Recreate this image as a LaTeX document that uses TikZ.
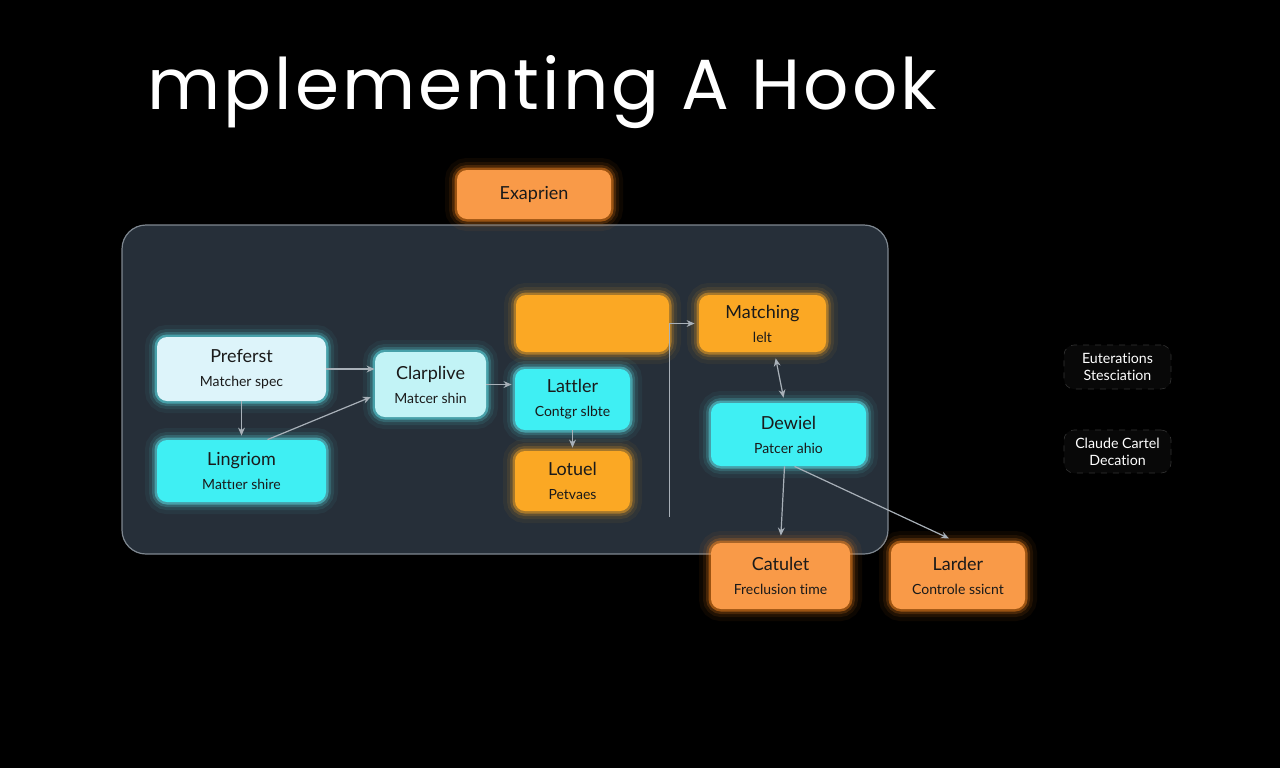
\documentclass[tikz,border=0pt]{standalone}
\usepackage{fontspec}
\setmainfont{Lato}[Ligatures=NoCommon]
\newfontfamily\titlefont[LetterSpace=4.3]{Poppins}
\usetikzlibrary{arrows.meta}
\definecolor{panelfill}{HTML}{262F39}
\definecolor{panelline}{HTML}{7E8790}
\definecolor{lcyan}{HTML}{DDF4FA}
\definecolor{mcyan}{HTML}{C2F3F6}
\definecolor{bcyan}{HTML}{3FEFF3}
\definecolor{gcyan}{HTML}{5FEAF2}
\definecolor{amber}{HTML}{FBA824}
\definecolor{orng}{HTML}{F99A48}
\definecolor{gorng}{HTML}{FF8A20}
\definecolor{arrc}{HTML}{A8B0B8}
\definecolor{txt}{HTML}{1A1A1A}
\newcommand\subt[1]{{\fontsize{7}{12}\selectfont #1}}
\begin{document}
\begin{tikzpicture}[x=0.5pt,y=-0.5pt,
  box/.style={rounded corners=5pt, align=center, inner sep=0pt, text=txt,
    font=\fontsize{9}{12}\selectfont},
  glow/.style={preaction={draw=#1,line width=12pt,opacity=0.05},
    preaction={draw=#1,line width=8pt,opacity=0.09},
    preaction={draw=#1,line width=5pt,opacity=0.18},
    preaction={draw=#1,line width=2.5pt,opacity=0.45}},
  note/.style={rounded corners=5pt, align=center, inner sep=0pt, text=white,
    draw=white!20!black, dashed, line width=0.3pt, fill=black!97!white,
    font=\fontsize{7.1}{8.5}\selectfont},
  arr/.style={draw=arrc, line width=0.6pt, -{Stealth[length=4pt,width=3.4pt]}},
  plain/.style={draw=arrc, line width=0.6pt}]
\fill[black] (0,0) rectangle (1280,768);
\useasboundingbox (0,0) rectangle (1280,768);

\node[anchor=base west, inner sep=0pt, text=white, font=\titlefont\fontsize{35.5}{40}\selectfont] (title) at (147,109) {mplementing A Hook};

\node[draw=panelline, fill=panelfill, line width=0.6pt, rounded corners=12pt,
  minimum width=383pt, minimum height=164.5pt] (panel) at (505,389.5) {};

\node[box, fill=orng, glow=gorng, minimum width=77pt, minimum height=24.5pt] (exa) at (534,194.5) {Exaprien};

\node[box, fill=lcyan, glow=gcyan, minimum width=84.5pt, minimum height=32pt] (pref) at (241.5,369) {Preferst\\\subt{Matcher spec}};
\node[box, fill=bcyan, glow=gcyan, minimum width=84.5pt, minimum height=31pt] (ling) at (241.5,471) {Lingriom\\\subt{Mattıer shire}};
\node[box, fill=mcyan, glow=gcyan, minimum width=55.5pt, minimum height=32.5pt] (clar) at (430.5,384.5) {Clarplive\\\subt{Matcer shin}};
\node[box, fill=amber, glow=amber, minimum width=76.5pt, minimum height=28.5pt] (blank) at (592.5,323.5) {};
\node[box, fill=bcyan, glow=gcyan, minimum width=57.5pt, minimum height=30.5pt] (latt) at (572.5,399.5) {Lattler\\\subt{Contgr slbte}};
\node[box, fill=amber, glow=amber, minimum width=57.5pt, minimum height=30pt] (lot) at (572.5,481) {Lotuel\\\subt{Petvaes}};
\node[box, fill=amber, glow=amber, minimum width=63.5pt, minimum height=28.5pt] (match) at (762.5,323.5) {Matching\\\subt{lelt}};
\node[box, fill=bcyan, glow=gcyan, minimum width=77.5pt, minimum height=31.5pt] (dew) at (788.5,434.5) {Dewiel\\\subt{Patcer ahio}};
\node[box, fill=orng, glow=gorng, minimum width=69.5pt, minimum height=33pt] (cat) at (780.5,576) {Catulet\\\subt{Freclusion time}};
\node[box, fill=orng, glow=gorng, minimum width=67pt, minimum height=33pt] (lard) at (958,576) {Larder\\\subt{Controle ssicnt}};

\node[note, minimum width=53.5pt, minimum height=22pt] (eut) at (1117.5,367) {Euterations\\Stesciation};
\node[note, minimum width=53.5pt, minimum height=21.5pt] (cla) at (1117.5,451.5) {Claude Cartel\\Decation};

\draw[arr] (pref.east) -- (clar.west |- pref.east);
\draw[arr, shorten >=2pt] (pref.south) -- (ling.north);
\draw[arr, shorten >=2pt] ([xshift=13pt]ling.north) -- ([yshift=-5.5pt]clar.west);
\draw[arr, shorten >=1.5pt] (clar.east) -- (latt.west |- clar.east);
\draw[arr, shorten >=1.5pt] (latt.south) -- (lot.north);
\draw[arr, shorten >=2pt] (blank.east) -- (match.west);
\coordinate (vb) at (670,517);
\draw[plain] (blank.east) -- (blank.east |- vb);
\draw[arr, {Stealth[length=4pt,width=3.4pt]}-{Stealth[length=4pt,width=3.4pt]}, shorten >=2.5pt, shorten <=3pt] ([xshift=6pt]match.south) -- ([xshift=-2pt]dew.north);
\draw[arr, shorten >=3.5pt] ([xshift=-2pt]dew.south) -- (cat.north);
\draw[arr, shorten >=5pt] ([xshift=3pt]dew.south) -- (lard.north);
\end{tikzpicture}
\end{document}
